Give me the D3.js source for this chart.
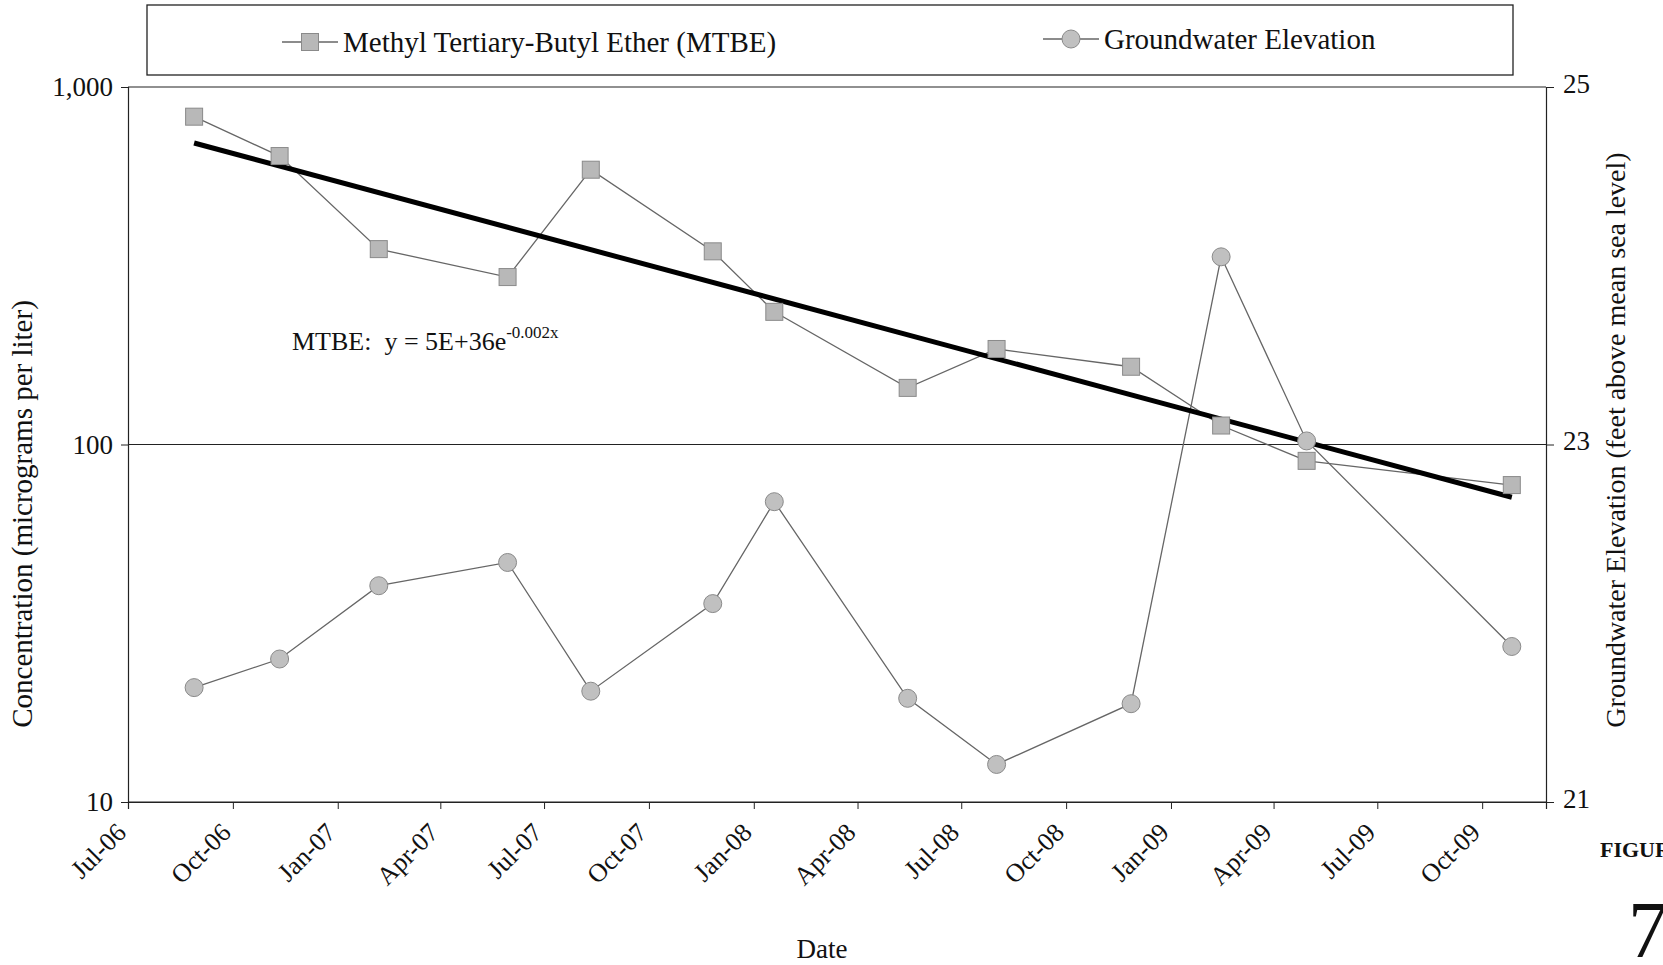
<!DOCTYPE html>
<html>
<head>
<meta charset="utf-8">
<script src="https://cdn.jsdelivr.net/npm/d3@7"></script>
<style>
  body { margin: 0; background: #fff; }
  svg text { font-family: "Palatino Linotype", "Book Antiqua", Palatino, "Liberation Serif", serif; fill: #111; }
</style>
</head>
<body>
<div id="chart"></div>
<script>
// sample dates and results
const sampleDates = ["2006-08-28", "2006-11-11", "2007-02-06", "2007-05-30", "2007-08-11", "2007-11-26",
  "2008-01-19", "2008-05-15", "2008-08-01", "2008-11-27", "2009-02-14", "2009-04-30", "2009-10-27"];
const mtbe = [826, 641, 352, 294, 587, 347, 235, 144, 185, 165, 113, 90, 77];
const elevation = [21.64, 21.80, 22.21, 22.34, 21.62, 22.11, 22.68, 21.58, 21.21, 21.55, 24.05, 23.02, 21.87];

const xTickDates = ["2006-07-01", "2006-10-01", "2007-01-01", "2007-04-01", "2007-07-01", "2007-10-01",
  "2008-01-01", "2008-04-01", "2008-07-01", "2008-10-01", "2009-01-01", "2009-04-01", "2009-07-01", "2009-10-01"];
const xDomain = ["2006-07-01", "2009-11-26"];
const leftTicks = [10, 100, 1000];
const rightTicks = [21, 23, 25];

const seriesNames = ["Methyl Tertiary-Butyl Ether (MTBE)", "Groundwater Elevation"];

const W = 1663, H = 965;
const margin = { top: 87, right: W - 1546, bottom: H - 802, left: 128 };
const width = W - margin.left - margin.right;
const height = H - margin.top - margin.bottom;

const parse = d3.timeParse("%Y-%m-%d");
const data = sampleDates.map((d, i) => ({ date: parse(d), mtbe: mtbe[i], elev: elevation[i] }));

const svg = d3.select("#chart").append("svg")
  .attr("width", W)
  .attr("height", H);

const g = svg.append("g")
  .attr("transform", "translate(" + margin.left + "," + margin.top + ")");

const x = d3.scaleTime().domain(xDomain.map(parse)).range([0, width]);
const y = d3.scaleLog().domain([10, 1000]).range([height, 0]);
const y2 = d3.scaleLinear().domain([21, 25]).range([height, 0]);

// gridlines (horizontal at major ticks)
g.selectAll(".grid")
  .data(leftTicks)
  .join("line")
  .attr("x1", 0).attr("x2", width)
  .attr("y1", d => y(d)).attr("y2", d => y(d))
  .attr("stroke", "#222").attr("stroke-width", 1.2);

// left axis
const yAxis = d3.axisLeft(y).tickValues(leftTicks).tickFormat(d3.format(",")).tickSize(7);
const ga = g.append("g").call(yAxis);
ga.select(".domain").attr("stroke", "#222").attr("stroke-width", 1.2);
ga.selectAll(".tick line").attr("stroke", "#222");
ga.selectAll("text").attr("font-size", 27).attr("dx", -5).style("font-family", null);

// right axis
const y2Axis = d3.axisRight(y2).tickValues(rightTicks).tickFormat(d3.format("d")).tickSize(8);
const gr = g.append("g").attr("transform", "translate(" + width + ",0)").call(y2Axis);
gr.select(".domain").attr("stroke", "#222").attr("stroke-width", 1.2);
gr.selectAll(".tick line").attr("stroke", "#222");
gr.selectAll("text").attr("font-size", 27).attr("dx", 6).attr("dy", "0.2em").style("font-family", null);

// bottom axis
const xAxis = d3.axisBottom(x).tickValues(xTickDates.map(parse)).tickFormat(d3.timeFormat("%b-%y")).tickSize(7);
const gx = g.append("g").attr("transform", "translate(0," + height + ")").call(xAxis);
gx.select(".domain").attr("stroke", "#222").attr("stroke-width", 1.2);
gx.selectAll(".tick line").attr("stroke", "#222");
gx.selectAll("text")
  .attr("font-size", 26)
  .style("font-family", null)
  .attr("text-anchor", "end")
  .attr("dy", 0)
  .attr("transform", "translate(-8,25) rotate(-45)");

// exponential trendline (least squares on ln y)
const t0 = data[0].date.getTime();
const xs = data.map(d => (d.date.getTime() - t0) / 864e5);
const ys = data.map(d => Math.log(d.mtbe));
const mx = d3.mean(xs), my = d3.mean(ys);
const b = d3.sum(xs, (v, i) => (v - mx) * (ys[i] - my)) / d3.sum(xs, v => (v - mx) * (v - mx));
const a = my - b * mx;
const trend = data.map((d, i) => ({ date: d.date, v: Math.exp(a + b * xs[i]) }));

// series lines
g.append("path")
  .datum(data)
  .attr("fill", "none")
  .attr("stroke", "#666")
  .attr("stroke-width", 1.3)
  .attr("d", d3.line().x(d => x(d.date)).y(d => y(d.mtbe)));

g.append("path")
  .datum(data)
  .attr("fill", "none")
  .attr("stroke", "#666")
  .attr("stroke-width", 1.3)
  .attr("d", d3.line().x(d => x(d.date)).y(d => y2(d.elev)));

g.append("path")
  .datum([trend[0], trend[trend.length - 1]])
  .attr("fill", "none")
  .attr("stroke", "#000")
  .attr("stroke-width", 5)
  .attr("d", d3.line().x(d => x(d.date)).y(d => y(d.v)));

// markers
const sq = 17;
g.selectAll(".sq")
  .data(data)
  .join("rect")
  .attr("x", d => x(d.date) - sq / 2)
  .attr("y", d => y(d.mtbe) - sq / 2)
  .attr("width", sq).attr("height", sq)
  .attr("fill", "#b8b8b8").attr("stroke", "#8a8a8a").attr("stroke-width", 1);

g.selectAll(".ci")
  .data(data)
  .join("circle")
  .attr("cx", d => x(d.date))
  .attr("cy", d => y2(d.elev))
  .attr("r", 9)
  .attr("fill", "#c0c0c0").attr("stroke", "#8a8a8a").attr("stroke-width", 1);

// equation label
const eq = svg.append("text").attr("x", 292).attr("y", 350).attr("font-size", 26).style("white-space", "pre");
eq.append("tspan").text("MTBE:  y = 5E+36e");
eq.append("tspan").attr("dy", -12).attr("font-size", 17).text("-0.002x");

// axis titles
svg.append("text")
  .attr("transform", "translate(32,514) rotate(-90)")
  .attr("text-anchor", "middle")
  .attr("font-size", 29)
  .text("Concentration (micrograms per liter)");

svg.append("text")
  .attr("transform", "translate(1625,440) rotate(-90)")
  .attr("text-anchor", "middle")
  .attr("font-size", 28)
  .text("Groundwater Elevation (feet above mean sea level)");

svg.append("text")
  .attr("x", 822).attr("y", 958)
  .attr("text-anchor", "middle")
  .attr("font-size", 27)
  .text("Date");

// figure number
svg.append("text").attr("x", 1600).attr("y", 857).attr("font-size", 22).attr("font-weight", "bold").text("FIGURE");
svg.append("text").attr("x", 1628).attr("y", 957).attr("font-size", 80).text("7");

// legend
svg.append("rect")
  .attr("x", 147).attr("y", 5).attr("width", 1366).attr("height", 70)
  .attr("fill", "#fff").attr("stroke", "#222").attr("stroke-width", 1.3);

const legendItems = [
  { name: seriesNames[0], x: 282, y: 42, shape: "square" },
  { name: seriesNames[1], x: 1043, y: 39, shape: "circle" }
];
const lg = svg.selectAll(".legend").data(legendItems).join("g")
  .attr("transform", d => "translate(" + d.x + "," + d.y + ")");
lg.append("line").attr("x1", 0).attr("x2", 56).attr("stroke", "#666").attr("stroke-width", 1.3);
lg.filter(d => d.shape === "square").append("rect")
  .attr("x", 28 - sq / 2).attr("y", -sq / 2).attr("width", sq).attr("height", sq)
  .attr("fill", "#b8b8b8").attr("stroke", "#8a8a8a");
lg.filter(d => d.shape === "circle").append("circle")
  .attr("cx", 28).attr("r", 9)
  .attr("fill", "#c0c0c0").attr("stroke", "#8a8a8a");
lg.append("text").attr("x", 61).attr("dy", "0.35em").attr("font-size", 29).text(d => d.name);
</script>
</body>
</html>
